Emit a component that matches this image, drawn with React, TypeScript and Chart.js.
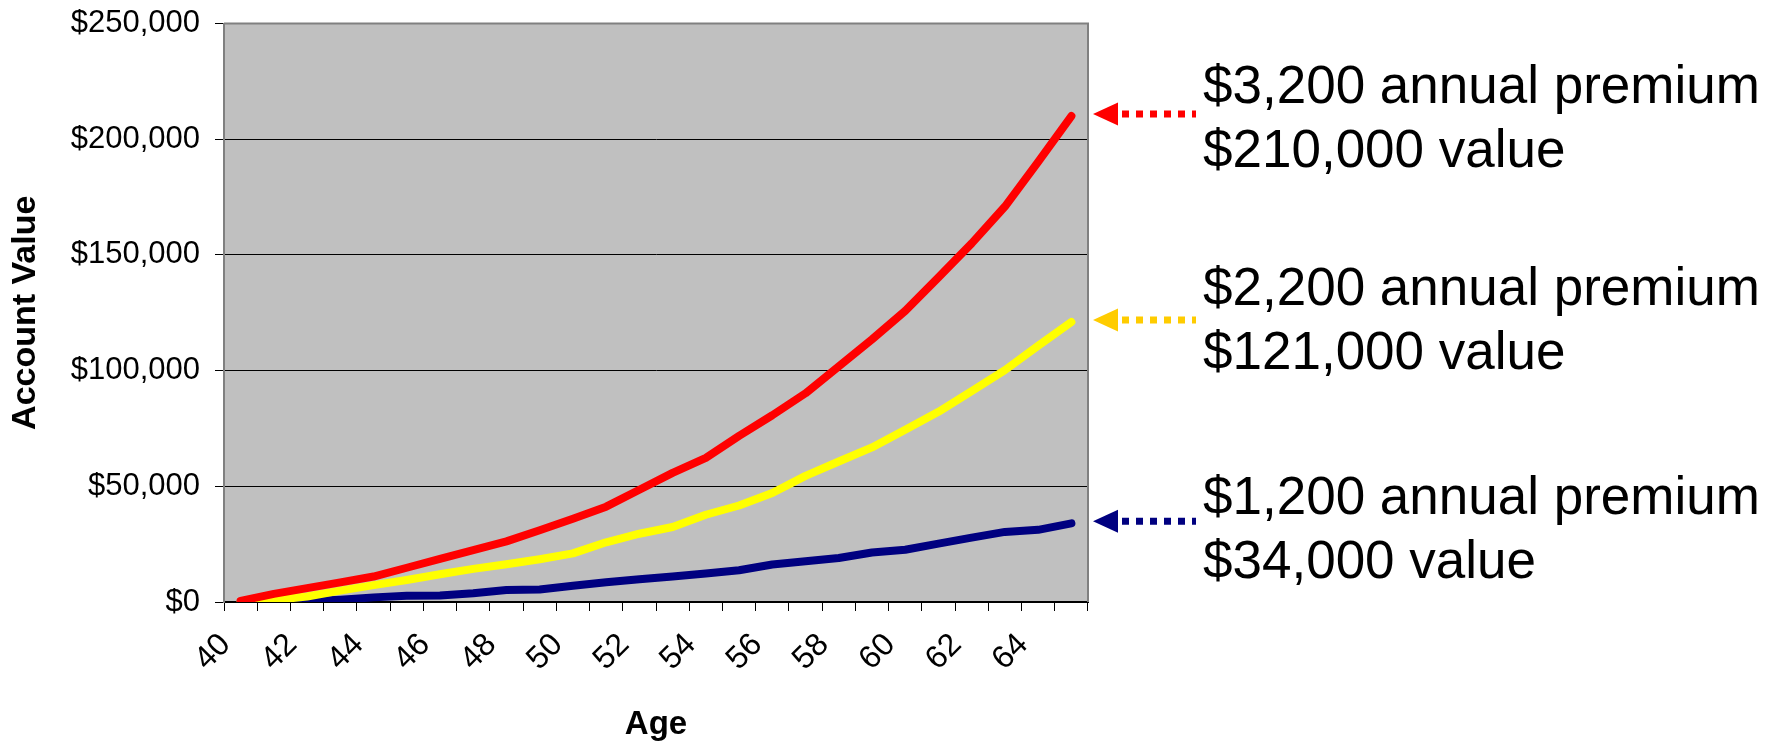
import React, { useEffect, useRef } from 'react';
import { Chart, registerables } from 'chart.js';

Chart.register(...registerables);

// Ages on the horizontal axis (one category per year)
const ages = [40, 41, 42, 43, 44, 45, 46, 47, 48, 49, 50, 51, 52, 53, 54, 55, 56, 57, 58, 59, 60, 61, 62, 63, 64, 65];

// Only every other age is labelled
const ageTickLabels = ['40', '', '42', '', '44', '', '46', '', '48', '', '50', '', '52', '', '54', '', '56', '', '58', '', '60', '', '62', '', '64', ''];

// Account value by age for each annual premium
const value3200 = [500, 3500, 6000, 8500, 11000, 14800, 18600, 22400, 26200, 31000, 36000, 41200, 48500, 55800, 62300, 71800, 80700, 90200, 101800, 113500, 125800, 140300, 155000, 170900, 190200, 210000];
const value2200 = [0, 800, 2400, 4900, 7300, 9500, 12000, 14300, 16300, 18500, 21000, 25800, 29500, 32400, 37700, 41700, 47100, 54500, 60700, 66800, 74400, 82200, 91100, 100200, 110700, 121000];
const value1200 = [0, 0, 300, 1000, 2000, 2700, 2800, 3800, 5200, 5400, 7000, 8500, 9800, 11000, 12300, 13700, 16200, 17600, 19000, 21400, 22600, 25200, 27800, 30300, 31200, 34000];

// Vertical axis range
const yMin = 0;
const yMax = 250000;
const yStep = 50000;

// Callout texts next to the end of each line
const premiumNotes = ['$3,200 annual premium', '$2,200 annual premium', '$1,200 annual premium'];
const valueNotes = ['$210,000 value', '$121,000 value', '$34,000 value'];

const FONT = '"Liberation Sans", Arial, Helvetica, sans-serif';

const lineColors = ['#FF0000', '#FFFF00', '#000080'];
const arrowColors = ['#FF0000', '#FFCC00', '#000080'];

// Baseline of the first caption line of each callout, and the gap to the second line
const captionBaselines = [103, 305, 514];
const captionLineGap = 64;

// Grey plot area, drawn before the scales and lines
const plotBackground = {
  id: 'plotBackground',
  beforeDraw(chart: any) {
    const { ctx, chartArea } = chart;
    if (!chartArea) return;
    ctx.save();
    ctx.fillStyle = '#C0C0C0';
    ctx.fillRect(chartArea.left, chartArea.top, chartArea.right - chartArea.left, chartArea.bottom - chartArea.top);
    ctx.restore();
  },
  beforeDatasetsDraw(chart: any) {
    const { ctx, chartArea } = chart;
    ctx.save();
    ctx.strokeStyle = '#808080';
    ctx.lineWidth = 2;
    ctx.beginPath();
    ctx.moveTo(chartArea.left, chartArea.top);
    ctx.lineTo(chartArea.right, chartArea.top);
    ctx.lineTo(chartArea.right, chartArea.bottom);
    ctx.stroke();
    ctx.restore();
  },
};

// Dotted arrows pointing at each line's final value, with the two-line captions
const premiumCallouts = {
  id: 'premiumCallouts',
  afterDraw(chart: any) {
    const { ctx, chartArea } = chart;
    const yScale = chart.scales.y;
    ctx.save();
    chart.data.datasets.forEach((ds: any, i: number) => {
      const last = ds.data[ds.data.length - 1];
      const y = yScale.getPixelForValue(last) - 2;
      const tipX = chartArea.right + 5;
      const color = arrowColors[i];

      // arrow head
      ctx.fillStyle = color;
      ctx.beginPath();
      ctx.moveTo(tipX, y);
      ctx.lineTo(tipX + 25, y - 11.5);
      ctx.lineTo(tipX + 25, y + 11.5);
      ctx.closePath();
      ctx.fill();

      // dotted shaft
      ctx.strokeStyle = color;
      ctx.lineWidth = 7;
      ctx.setLineDash([7, 7]);
      ctx.beginPath();
      ctx.moveTo(tipX + 29, y);
      ctx.lineTo(tipX + 103, y);
      ctx.stroke();
      ctx.setLineDash([]);

      // caption
      ctx.fillStyle = '#000';
      ctx.font = `53px ${FONT}`;
      ctx.textAlign = 'left';
      ctx.textBaseline = 'alphabetic';
      const textX = chartArea.right + 115;
      ctx.fillText(premiumNotes[i], textX, captionBaselines[i]);
      ctx.fillText(valueNotes[i], textX, captionBaselines[i] + captionLineGap);
    });
    ctx.restore();
  },
};

function lineDataset(label: string, data: number[], color: string) {
  return {
    label,
    data,
    borderColor: color,
    backgroundColor: color,
    borderWidth: 8,
    pointRadius: 0,
    pointHoverRadius: 0,
    tension: 0,
    fill: false,
    borderCapStyle: 'round' as const,
    borderJoinStyle: 'round' as const,
  };
}

export default function App() {
  const canvasRef = useRef<HTMLCanvasElement | null>(null);

  useEffect(() => {
    const canvas = canvasRef.current;
    if (!canvas) return;
    const chart = new Chart(canvas, {
      type: 'line',
      data: {
        labels: ages.map(String),
        datasets: [
          lineDataset(premiumNotes[0], value3200, lineColors[0]),
          lineDataset(premiumNotes[1], value2200, lineColors[1]),
          lineDataset(premiumNotes[2], value1200, lineColors[2]),
        ],
      },
      options: {
        responsive: false,
        animation: false,
        devicePixelRatio: 1,
        layout: { padding: { top: 23.5, right: 691, left: 0, bottom: 0 } },
        plugins: {
          legend: { display: false },
          tooltip: { enabled: false },
        },
        scales: {
          x: {
            type: 'category',
            offset: true,
            grid: {
              offset: true,
              drawOnChartArea: false,
              drawTicks: true,
              tickLength: 9,
              color: '#000',
              lineWidth: 1,
            },
            border: { color: '#000', width: 2 },
            ticks: {
              autoSkip: false,
              minRotation: 45,
              maxRotation: 45,
              color: '#000',
              padding: 15,
              labelOffset: -15,
              font: { family: FONT, size: 32 },
              callback: (_v: any, i: number) => ageTickLabels[i],
            },
            title: {
              display: true,
              text: 'Age',
              color: '#000',
              font: { family: FONT, size: 33, weight: 'bold', lineHeight: 1.05 },
              padding: 0,
            },
            afterFit: (s: any) => {
              s.height = 140;
              s.paddingLeft = 0;
              s.paddingRight = 0;
            },
          },
          y: {
            min: yMin,
            max: yMax,
            grid: { color: '#000', lineWidth: 1, tickLength: 9, drawTicks: true },
            border: { color: '#808080', width: 2 },
            ticks: {
              stepSize: yStep,
              color: '#000',
              padding: 15,
              font: { family: FONT, size: 31 },
              callback: (v: any) => '$' + Number(v).toLocaleString('en-US'),
            },
            title: {
              display: true,
              text: 'Account Value',
              color: '#000',
              font: { family: FONT, size: 34, weight: 'bold' },
              padding: { top: 5, bottom: 0 },
            },
            afterFit: (s: any) => {
              s.width = 224;
              s.paddingTop = 0;
              s.paddingBottom = 0;
            },
          },
        },
      } as any,
      plugins: [plotBackground, premiumCallouts],
    });
    return () => chart.destroy();
  }, []);

  return (
    <div style={{ position: 'absolute', left: 0, top: 0, width: 1779, height: 742, background: '#fff' }}>
      <canvas ref={canvasRef} width={1779} height={742} style={{ display: 'block' }} />
    </div>
  );
}
